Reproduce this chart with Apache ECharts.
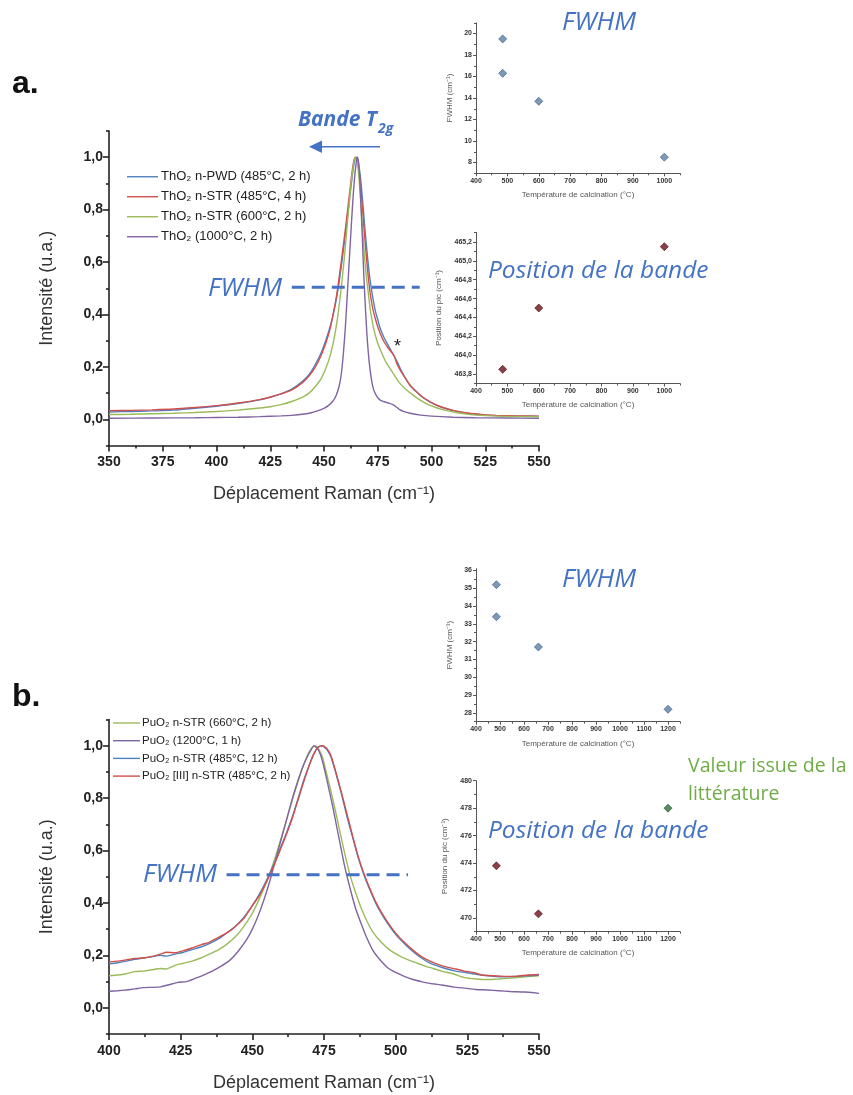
<!DOCTYPE html>
<html><head><meta charset="utf-8">
<script src="https://cdn.jsdelivr.net/npm/echarts@6/dist/echarts.min.js"></script>
<style>html,body{margin:0;padding:0;background:#fff}#c{width:853px;height:1095px}</style>
</head><body><div id="c"></div>
<script>
// ---------- ThO2 spectra (x: Raman shift cm-1, y: normalized intensity) ----------
const thNames = ['ThO₂ n-PWD (485°C, 2 h)', 'ThO₂ n-STR (485°C, 4 h)', 'ThO₂ n-STR (600°C, 2 h)', 'ThO₂ (1000°C, 2 h)'];
const thPwd485 = [[350,0.028],[360,0.030],[370,0.032],[380,0.035],[390,0.042],[400,0.050],[410,0.060],[420,0.074],[425,0.084],[430,0.097],[435,0.115],[440,0.145],[443,0.17],[446,0.21],[449,0.26],[452,0.33],[454,0.39],[456,0.47],[458,0.58],[460,0.71],[462,0.85],[463.5,0.95],[464.5,0.995],[465.3,1.0],[466,0.98],[467,0.92],[468,0.83],[469,0.73],[470,0.64],[471,0.56],[472,0.5],[473,0.45],[474,0.41],[475,0.38],[476,0.35],[478,0.31],[480,0.28],[482,0.25],[484,0.22],[486,0.185],[488,0.155],[490,0.13],[493,0.105],[496,0.083],[500,0.063],[505,0.045],[510,0.033],[515,0.025],[520,0.019],[525,0.016],[530,0.014],[540,0.012],[550,0.011]];
const thStr485 = [[350,0.033],[360,0.034],[370,0.036],[380,0.039],[390,0.045],[400,0.052],[410,0.062],[420,0.075],[425,0.085],[430,0.097],[435,0.112],[440,0.14],[443,0.165],[446,0.2],[449,0.25],[452,0.32],[454,0.39],[456,0.48],[458,0.6],[460,0.73],[462,0.87],[463.5,0.97],[464.5,1.0],[465.5,0.99],[466.5,0.93],[467.5,0.84],[468.5,0.74],[469.5,0.64],[470.5,0.55],[471.5,0.48],[472.5,0.43],[474,0.38],[476,0.33],[478,0.295],[480,0.27],[482,0.25],[483,0.235],[484,0.21],[486,0.18],[488,0.155],[490,0.13],[493,0.105],[496,0.084],[500,0.064],[505,0.046],[510,0.034],[515,0.026],[520,0.021],[525,0.017],[530,0.015],[540,0.013],[550,0.012]];
const thStr600 = [[350,0.018],[360,0.019],[370,0.021],[380,0.023],[390,0.026],[400,0.03],[410,0.035],[420,0.043],[425,0.048],[430,0.056],[435,0.068],[440,0.085],[443,0.1],[446,0.125],[449,0.16],[452,0.22],[454,0.28],[456,0.37],[458,0.5],[459.5,0.62],[461,0.76],[462.5,0.89],[463.5,0.96],[464.5,1.0],[465.5,0.98],[466.5,0.9],[467.5,0.78],[468.5,0.66],[469.5,0.56],[470.5,0.49],[471.5,0.42],[473,0.35],[475,0.29],[477,0.25],[479,0.215],[481,0.19],[483,0.165],[485,0.14],[488,0.115],[491,0.095],[494,0.077],[498,0.058],[502,0.045],[506,0.035],[512,0.025],[518,0.018],[525,0.014],[535,0.011],[550,0.01]];
const th1000 = [[350,0.004],[370,0.005],[390,0.006],[400,0.007],[410,0.008],[420,0.01],[430,0.013],[435,0.015],[440,0.019],[444,0.025],[447,0.032],[450,0.042],[452,0.052],[454,0.068],[455.5,0.088],[457,0.125],[458,0.17],[459,0.25],[460,0.36],[461,0.5],[462,0.64],[463,0.78],[464,0.9],[465,0.98],[465.6,1.0],[466.3,0.96],[467,0.85],[467.8,0.7],[468.5,0.55],[469.3,0.42],[470,0.32],[471,0.22],[472,0.155],[473,0.115],[474.5,0.088],[476,0.074],[478,0.067],[480,0.062],[482,0.056],[483.5,0.048],[485,0.038],[487,0.03],[490,0.023],[495,0.016],[500,0.012],[510,0.008],[520,0.006],[535,0.005],[550,0.004]];
const thFwhmLine = [[435,0.504],[494.5,0.504]];

// ---------- PuO2 spectra ----------
const puNames = ['PuO₂ n-STR (660°C, 2 h)', 'PuO₂ (1200°C, 1 h)', 'PuO₂ n-STR (485°C, 12 h)', 'PuO₂ [III] n-STR (485°C, 2 h)'];
const puStr660 = [[400,0.122],[403,0.125],[406,0.13],[409,0.138],[412,0.14],[415,0.145],[418,0.15],[420,0.148],[423,0.162],[426,0.17],[429,0.178],[432,0.19],[435,0.205],[438,0.22],[441,0.242],[444,0.27],[447,0.31],[450,0.36],[452,0.405],[454,0.455],[456,0.51],[458,0.575],[460,0.645],[462,0.72],[464,0.795],[466,0.865],[468,0.93],[469.5,0.97],[471,0.995],[472,1.0],[473,0.99],[474.5,0.955],[476,0.89],[478,0.8],[480,0.7],[482,0.6],[484,0.51],[486,0.44],[488,0.38],[490,0.33],[492,0.29],[495,0.25],[498,0.22],[501,0.2],[504,0.185],[507,0.172],[510,0.16],[513,0.15],[516,0.14],[520,0.13],[524,0.115],[528,0.11],[532,0.108],[536,0.11],[540,0.113],[545,0.118],[550,0.122]];
const pu1200 = [[400,0.063],[403,0.065],[406,0.068],[409,0.072],[412,0.077],[415,0.078],[418,0.08],[421,0.088],[424,0.097],[427,0.1],[430,0.112],[433,0.125],[436,0.14],[439,0.158],[442,0.18],[445,0.215],[448,0.26],[450,0.3],[452,0.35],[454,0.41],[456,0.48],[458,0.56],[460,0.64],[462,0.72],[464,0.8],[466,0.87],[468,0.93],[470,0.975],[471.5,1.0],[473,0.985],[474.5,0.94],[476,0.87],[478,0.77],[480,0.66],[482,0.55],[484,0.46],[486,0.38],[488,0.32],[490,0.265],[492,0.22],[494,0.19],[497,0.155],[500,0.135],[503,0.12],[506,0.108],[509,0.1],[512,0.093],[516,0.087],[520,0.08],[524,0.075],[528,0.07],[532,0.068],[536,0.065],[540,0.062],[545,0.06],[550,0.055]];
const puStr485 = [[400,0.168],[403,0.172],[406,0.178],[409,0.185],[412,0.19],[415,0.195],[418,0.2],[420,0.197],[423,0.205],[426,0.212],[429,0.222],[432,0.232],[435,0.245],[438,0.262],[441,0.285],[444,0.31],[447,0.345],[450,0.39],[452,0.425],[454,0.465],[456,0.51],[458,0.56],[460,0.615],[462,0.67],[464,0.73],[466,0.8],[468,0.87],[470,0.93],[471.5,0.97],[473,0.995],[474.5,1.0],[476,0.985],[477.5,0.955],[479,0.9],[481,0.82],[483,0.73],[485,0.65],[487,0.57],[489,0.505],[491,0.45],[493,0.4],[495,0.36],[497,0.325],[500,0.28],[503,0.245],[506,0.215],[509,0.19],[512,0.17],[515,0.158],[518,0.148],[521,0.14],[524,0.135],[527,0.13],[530,0.125],[534,0.12],[538,0.118],[542,0.12],[546,0.122],[550,0.125]];
const puIII485 = [[400,0.175],[403,0.178],[406,0.183],[409,0.188],[412,0.19],[415,0.196],[418,0.205],[420,0.212],[423,0.21],[426,0.218],[429,0.228],[432,0.24],[435,0.25],[438,0.268],[441,0.285],[443,0.3],[445,0.32],[447,0.34],[450,0.39],[452,0.42],[454,0.46],[456,0.505],[458,0.555],[460,0.61],[462,0.665],[464,0.725],[466,0.795],[468,0.865],[470,0.93],[471.5,0.97],[473,0.995],[474.5,1.0],[476,0.99],[477.5,0.96],[479,0.905],[481,0.825],[483,0.74],[485,0.655],[487,0.575],[489,0.51],[491,0.455],[493,0.405],[495,0.365],[497,0.33],[500,0.285],[503,0.25],[506,0.22],[509,0.195],[512,0.178],[515,0.165],[518,0.155],[521,0.148],[524,0.14],[527,0.135],[530,0.125],[534,0.122],[538,0.12],[542,0.12],[546,0.125],[550,0.127]];
const puFwhmLine = [[441,0.508],[504.3,0.508]];

// ---------- insets ----------
const thFwhmT = [485, 485, 600, 1000];
const thFwhmV = [19.5, 16.3, 13.7, 8.5];
const thPosT = [485, 600, 1000];
const thPosV = [463.85, 464.5, 465.15];
const puFwhmT = [485, 485, 660, 1200];
const puFwhmV = [35.2, 33.4, 31.7, 28.2];
const puPosT = [485, 660];
const puPosV = [473.8, 470.3];
const litT = [1200];
const litV = [478];

// ---------- tick labels ----------
const mainYTicks = [0, 0.2, 0.4, 0.6, 0.8, 1.0];
const mainYMinor = [-0.1, 0.1, 0.3, 0.5, 0.7, 0.9, 1.1];
const thXTicks = [350, 375, 400, 425, 450, 475, 500, 525, 550];
const thXMinor = [362.5, 387.5, 412.5, 437.5, 462.5, 487.5, 512.5, 537.5];
const puXTicks = [400, 425, 450, 475, 500, 525, 550];
const puXMinor = [412.5, 437.5, 462.5, 487.5, 512.5, 537.5];
const thInsetXTicks = [400, 500, 600, 700, 800, 900, 1000];
const thInsetXMinor = [450, 550, 650, 750, 850, 950, 1050];
const puInsetXTicks = [400, 500, 600, 700, 800, 900, 1000, 1100, 1200];
const puInsetXMinor = [450, 550, 650, 750, 850, 950, 1050, 1150, 1250];
const thFwhmYTicks = [8, 10, 12, 14, 16, 18, 20];
const thFwhmYMinor = [7, 9, 11, 13, 15, 17, 19, 21];
const thPosYTicks = [463.8, 464.0, 464.2, 464.4, 464.6, 464.8, 465.0, 465.2];
const thPosYMinor = [463.7, 463.9, 464.1, 464.3, 464.5, 464.7, 464.9, 465.1, 465.3];
const puFwhmYTicks = [28, 29, 30, 31, 32, 33, 34, 35, 36];
const puFwhmYMinor = [27.5, 28.5, 29.5, 30.5, 31.5, 32.5, 33.5, 34.5, 35.5];
const puPosYTicks = [470, 472, 474, 476, 478, 480];
const puPosYMinor = [469, 471, 473, 475, 477, 479];

const F = '"Liberation Sans", Arial, sans-serif';
const FA = '"Open Sans", Lato, sans-serif';
const BLUE = '#4F81BD', RED = '#D0504D', GREEN = '#9BBB59', PURPLE = '#8064A2';
const ANN = '#4472C4';

const rects = [
  {left: 109, top: 131, width: 430, height: 314.5},
  {left: 476, top: 22.8, width: 204, height: 150.5},
  {left: 476, top: 232.5, width: 204, height: 151},
  {left: 109, top: 719.5, width: 430, height: 314.5},
  {left: 476, top: 568.7, width: 204, height: 153},
  {left: 476, top: 780.7, width: 204, height: 151}
];
const grids = [];
rects.forEach(r => grids.push(Object.assign({outerBoundsMode: 'none', containLabel: false}, r)));
rects.forEach(r => grids.push(Object.assign({outerBoundsMode: 'none', containLabel: false}, r)));

const comma1 = v => (Math.round(v * 10) / 10).toFixed(1).replace('.', ',');
const intf = v => String(Math.round(v));

function mk(gi, min, max, majors, minors, fmt, o) {
  const main = {
    type: 'value', gridIndex: gi, min: min, max: max,
    axisLine: {show: true, onZero: false, lineStyle: {color: o.color, width: o.lw}},
    axisTick: {show: true, inside: false, length: o.tl, customValues: majors, lineStyle: {color: o.color, width: o.lw}},
    axisLabel: {show: true, customValues: majors, formatter: fmt, margin: o.margin, fontSize: o.fs, fontWeight: 'bold', color: o.lc, fontFamily: F},
    splitLine: {show: false},
    name: o.name, nameLocation: 'middle', nameGap: o.nameGap,
    nameTextStyle: {fontSize: o.nfs, color: o.nc, fontFamily: F}
  };
  const minor = {
    type: 'value', gridIndex: gi + 6, min: min, max: max,
    axisLine: {show: false, onZero: false},
    axisTick: {show: true, inside: false, length: o.ml, customValues: minors, lineStyle: {color: o.color, width: o.lw}},
    axisLabel: {show: false}, splitLine: {show: false}
  };
  return [main, minor];
}
const mainStyle = (name, gap, margin) => ({color: '#222', lw: 1.6, tl: 6, ml: 3, margin: margin, fs: 14, lc: '#222', name: name, nameGap: gap, nfs: 18, nc: '#333'});
const inStyle = (name, gap) => ({color: '#555', lw: 1, tl: 3, ml: 2, margin: 4, fs: 7, lc: '#333', name: name, nameGap: gap, nfs: 8, nc: '#555'});

const xPairs = [
  mk(0, 350, 550, thXTicks, thXMinor, intf, mainStyle('Déplacement Raman (cm⁻¹)', 40, 10)),
  mk(1, 400, 1050, thInsetXTicks, thInsetXMinor, intf, inStyle('Température de calcination (°C)', 17)),
  mk(2, 400, 1050, thInsetXTicks, thInsetXMinor, intf, inStyle('Température de calcination (°C)', 17)),
  mk(3, 400, 550, puXTicks, puXMinor, intf, mainStyle('Déplacement Raman (cm⁻¹)', 40, 10)),
  mk(4, 400, 1250, puInsetXTicks, puInsetXMinor, intf, inStyle('Température de calcination (°C)', 18)),
  mk(5, 400, 1250, puInsetXTicks, puInsetXMinor, intf, inStyle('Température de calcination (°C)', 17))
];
const yPairs = [
  mk(0, -0.1, 1.1, mainYTicks, mainYMinor, comma1, mainStyle('Intensité (u.a.)', 53, 6)),
  mk(1, 7, 21, thFwhmYTicks, thFwhmYMinor, intf, inStyle('FWHM (cm⁻¹)', 22)),
  mk(2, 463.7, 465.3, thPosYTicks, thPosYMinor, comma1, inStyle('Position du pic (cm⁻¹)', 33)),
  mk(3, -0.1, 1.1, mainYTicks, mainYMinor, comma1, mainStyle('Intensité (u.a.)', 53, 6)),
  mk(4, 27.5, 36.1, puFwhmYTicks, puFwhmYMinor, intf, inStyle('FWHM (cm⁻¹)', 22)),
  mk(5, 469, 480, puPosYTicks, puPosYMinor, intf, inStyle('Position du pic (cm⁻¹)', 27))
];
const xAxes = xPairs.map(p => p[0]).concat(xPairs.map(p => p[1]));
const yAxes = yPairs.map(p => p[0]).concat(yPairs.map(p => p[1]));

function line(name, data, color, gi, extra) {
  return Object.assign({type: 'line', name: name, data: data, xAxisIndex: gi, yAxisIndex: gi,
    symbol: 'none', smooth: 0.25, lineStyle: {color: color, width: 1.4}, itemStyle: {color: color}, z: 3}, extra || {});
}
const zip = (a, b) => a.map((v, i) => [v, b[i]]);
function pts(name, t, v, color, border, gi) {
  return {type: 'scatter', name: name, data: zip(t, v), xAxisIndex: gi, yAxisIndex: gi,
    symbol: 'diamond', symbolSize: 8, itemStyle: {color: color, borderColor: border, borderWidth: 0.8}, z: 4};
}

const series = [
  line(thNames[0], thPwd485, BLUE, 0),
  line(thNames[1], thStr485, RED, 0),
  line(thNames[2], thStr600, GREEN, 0),
  line(thNames[3], th1000, PURPLE, 0),
  {type: 'line', name: 'fwhm-th', data: thFwhmLine, xAxisIndex: 0, yAxisIndex: 0, symbol: 'none',
    lineStyle: {color: ANN, width: 3, type: [13, 7]}, z: 5},
  line(puNames[0], puStr660, GREEN, 3, {smooth: 0.15}),
  line(puNames[1], pu1200, PURPLE, 3, {smooth: 0.15}),
  line(puNames[2], puStr485, BLUE, 3, {smooth: 0.15}),
  line(puNames[3], puIII485, RED, 3, {smooth: 0.15}),
  {type: 'line', name: 'fwhm-pu', data: puFwhmLine, xAxisIndex: 3, yAxisIndex: 3, symbol: 'none',
    lineStyle: {color: ANN, width: 3, type: [13, 7]}, z: 5},
  pts('th-fwhm', thFwhmT, thFwhmV, '#5B7FA6', '#34557d', 1),
  pts('th-pos', thPosT, thPosV, '#6B1019', '#4a0a10', 2),
  pts('pu-fwhm', puFwhmT, puFwhmV, '#5B7FA6', '#34557d', 4),
  pts('pu-pos', puPosT, puPosV, '#6B1019', '#4a0a10', 5),
  pts('lit', litT, litV, '#2F6E3B', '#1f4f28', 5)
];

const legends = [
  {orient: 'vertical', selectedMode: false, padding: 0, icon: 'rect', itemHeight: 1.4,
    data: thNames, left: 127, top: 169, itemWidth: 31, itemGap: 4.5,
    textStyle: {fontSize: 13, lineHeight: 15.5, color: '#222', fontFamily: F, padding: [0, 0, 0, -2]}},
  {orient: 'vertical', selectedMode: false, padding: 0, icon: 'rect', itemHeight: 1.4,
    data: puNames, left: 113, top: 716, itemWidth: 27, itemGap: 3.7,
    textStyle: {fontSize: 11.5, lineHeight: 14, color: '#222', fontFamily: F, padding: [0, 0, 0, -3]}}
];

function txt(x, y, text, size, color, opts) {
  return {type: 'text', x: x, y: y, z: 10, style: Object.assign({text: text, fontSize: size, fill: color,
    fontFamily: FA, fontStyle: 'italic', verticalAlign: 'middle', align: 'left'}, opts || {})};
}
const graphic = [
  txt(12, 84, 'a.', 32, '#111', {fontFamily: F, fontStyle: 'normal', fontWeight: 'bold'}),
  txt(12, 697, 'b.', 32, '#111', {fontFamily: F, fontStyle: 'normal', fontWeight: 'bold'}),
  txt(298, 120, 'Bande T', 21, ANN, {fontWeight: 'bold'}),
  txt(378, 129, '2g', 14, ANN, {fontWeight: 'bold'}),
  {type: 'line', z: 10, shape: {x1: 380, y1: 146.7, x2: 318, y2: 146.7}, style: {stroke: ANN, lineWidth: 1.5}},
  {type: 'polygon', z: 10, shape: {points: [[309, 146.7], [322, 140.5], [322, 152.9]]}, style: {fill: ANN}},
  txt(208, 289, 'FWHM', 26, ANN),
  txt(562, 23, 'FWHM', 26, ANN),
  txt(488, 271, 'Position de la bande', 24.5, ANN),
  txt(394, 347, '*', 18, '#222', {fontFamily: F, fontStyle: 'normal'}),
  txt(143, 875, 'FWHM', 26, ANN),
  txt(562, 580, 'FWHM', 26, ANN),
  txt(488, 831, 'Position de la bande', 24.5, ANN),
  txt(688, 766, 'Valeur issue de la', 19.5, '#70AD47', {fontStyle: 'normal'}),
  txt(688, 794, 'littérature', 19.5, '#70AD47', {fontStyle: 'normal'})
];

const chart = echarts.init(document.getElementById('c'), null, {renderer: 'canvas'});
chart.setOption({
  backgroundColor: '#fff',
  animation: false,
  grid: grids,
  xAxis: xAxes,
  yAxis: yAxes,
  legend: legends,
  series: series,
  graphic: graphic
});
</script>
</body></html>
